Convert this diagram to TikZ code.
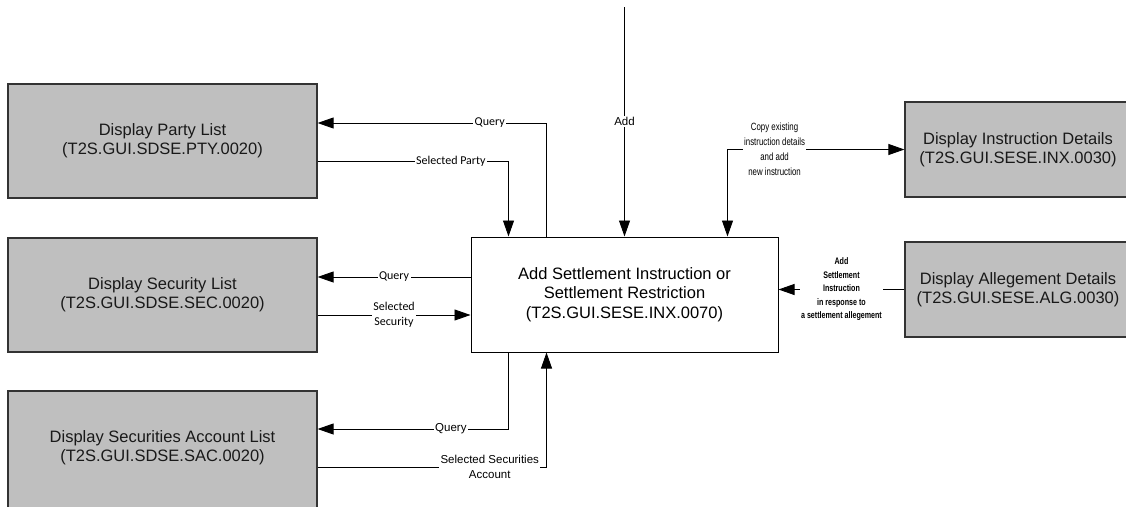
\documentclass[tikz,border=0pt]{standalone}
\usepackage{fontspec}
\setmainfont{Liberation Sans}
\newfontfamily\carlitofont{Carlito}
\newfontfamily\narrowfont[FakeStretch=0.75]{Liberation Sans}
\usetikzlibrary{arrows.meta}
\definecolor{boxgray}{HTML}{BFBFBF}
\definecolor{boxline}{HTML}{333333}
\begin{document}
\begin{tikzpicture}[x=1pt,y=-1pt,
  gbox/.style={draw=boxline, line width=1.2pt, fill=boxgray, inner sep=0pt,
    align=center, font=\fontsize{16.5}{19}\selectfont, text=black!90},
  lbox/.style={gbox, minimum width=309pt, minimum height=114pt},
  rbox/.style={gbox, minimum width=226pt, minimum height=95pt},
  cbox/.style={draw=black, line width=1pt, fill=white, inner sep=0pt,
    minimum width=307pt, minimum height=115pt, align=center,
    font=\fontsize{16.5}{19.5}\selectfont},
  conn/.style={draw=black, line width=0.9pt},
  arr/.style={conn, -{Triangle[length=16pt,width=11pt]}},
  darr/.style={conn, {Triangle[length=16pt,width=11pt]}-{Triangle[length=16pt,width=11pt]}},
  lblc/.style={fill=white, inner sep=1.5pt, align=center,
    font=\carlitofont\fontsize{12}{15}\selectfont},
  lbla/.style={fill=white, inner sep=1.5pt, align=center,
    font=\fontsize{11.5}{15}\selectfont},
  lbln/.style={fill=white, inner sep=1pt, align=center,
    font=\narrowfont\fontsize{10.5}{15}\selectfont},
  lblb/.style={fill=white, inner sep=1pt, align=center,
    font=\narrowfont\bfseries\fontsize{9.5}{13.5}\selectfont}
]
\useasboundingbox (0,0) rectangle (1126,506);
\clip (0,0) rectangle (1126,506);

% boxes
\node[lbox] (party) at (162.5,141) {Display Party List\\(T2S.GUI.SDSE.PTY.0020)};
\node[lbox] (sec) at (162.5,295) {Display Security List\\(T2S.GUI.SDSE.SEC.0020)};
\node[lbox, minimum height=134pt, text depth=24pt] (acc) at (162.5,458) {Display Securities Account List\\(T2S.GUI.SDSE.SAC.0020)};
\node[cbox] (cen) at (624.5,294.5) {Add Settlement Instruction or\\Settlement Restriction\\(T2S.GUI.SESE.INX.0070)};
\node[rbox] (ins) at (1018,149.5) {Display Instruction Details\\(T2S.GUI.SESE.INX.0030)};
\node[rbox] (alg) at (1018,289.5) {Display Allegement Details\\(T2S.GUI.SESE.ALG.0030)};

% Add
\coordinate (addtop) at (624.5,7);
\draw[arr] (addtop) -- node[lbla] {Add} (cen.north);

% party
\draw[arr] ([xshift=76pt]cen.north west) |- node[lblc, pos=0.624] {Query} ([yshift=18pt]party.east);
\draw[arr] ([yshift=-20pt]party.east) -| node[lblc, pos=0.349] {Selected Party} ([xshift=38pt]cen.north west);

% security
\draw[arr] ([yshift=17.5pt]cen.west) -- node[lblc] {Query} ([yshift=17.5pt]cen.west -| sec.east);
\draw[arr] ([yshift=-20pt]sec.east) -- node[lblc] {Selected\\Security} ([yshift=-20pt]sec.east -| cen.west);

% account
\draw[arr] ([xshift=38pt]cen.south west) |- node[lbla, pos=0.651] {Query} ([yshift=29pt]acc.east);
\draw[arr] ([yshift=-9pt]acc.east) -| node[lbla, pos=0.376] {Selected Securities\\Account} ([xshift=76pt]cen.south west);

% copy
\draw[darr] ([xshift=257pt]cen.north west) |- node[lbln, pos=0.633] {Copy existing\\instruction details\\and add\\new instruction} (ins.west);

% allegement
\draw[arr] (alg.west) -- node[lblb] {Add\\Settlement\\Instruction\\in response to\\a settlement allegement} (alg.west -| cen.east);
\end{tikzpicture}
\end{document}
